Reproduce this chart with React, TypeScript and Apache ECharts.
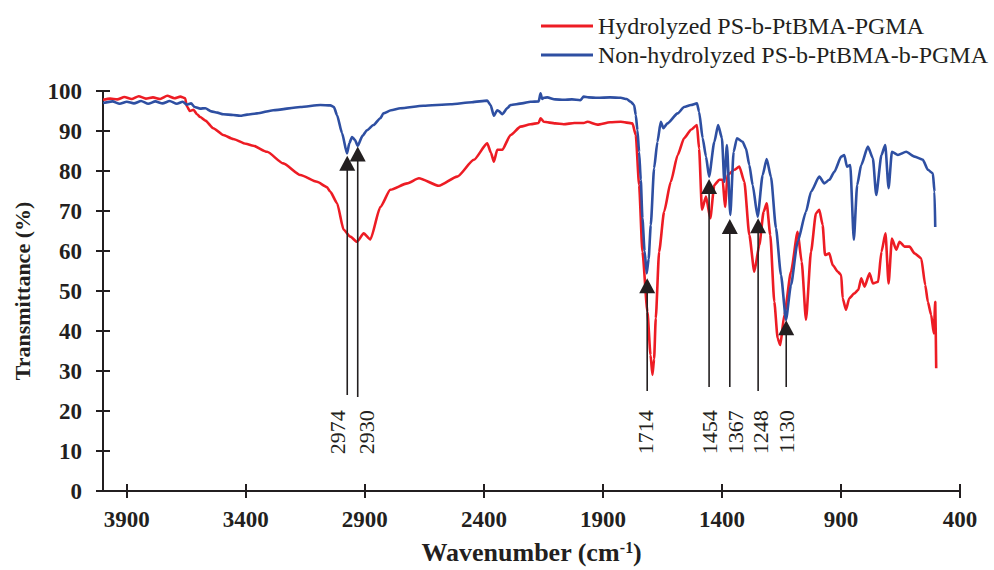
import React, { useEffect, useRef } from "react";
import * as echarts from "echarts";

// ---- Data (wavenumber cm-1, transmittance %) ----
const RED_NAME = "Hydrolyzed PS-b-PtBMA-PGMA";
const BLUE_NAME = "Non-hydrolyzed PS-b-PtBMA-b-PGMA";

const RED_DATA: [number, number][] = [
  [4000,97.8],[3970,98.1],[3940,97.9],[3910,98.5],[3880,98.0],[3850,98.7],[3820,98.1],[3790,98.4],[3760,98.0],[3730,98.8],
  [3700,98.2],[3675,98.6],[3655,98.2],[3648,96.2],[3635,95.0],[3620,95.3],[3605,94.2],[3592,93.5],[3570,92.6],[3537,90.7],
  [3495,89.0],[3453,88.0],[3400,86.8],[3369,86.3],[3311,84.8],[3243,81.9],[3171,79.0],[3101,77.3],[3060,76.0],[3045,74.8],
  [3017,72.0],[2989,65.3],[2961,63.6],[2933,62.3],[2905,64.4],[2877,62.9],[2835,71.0],[2793,75.3],[2722,76.9],[2673,78.2],
  [2589,76.3],[2512,78.6],[2442,82.8],[2386,86.9],[2370,84.5],[2358,82.3],[2344,85.3],[2323,85.3],[2288,89.0],[2246,91.1],
  [2204,91.7],[2170,92.0],[2162,93.2],[2148,92.3],[2100,91.9],[2065,91.7],[2020,92.0],[1981,92.0],[1965,92.3],[1923,91.6],
  [1870,92.2],[1825,92.3],[1776,91.9],[1762,89.0],[1748,76.5],[1734,59.8],[1713,44.8],[1700,34.0],[1692,29.0],[1685,33.0],
  [1678,43.2],[1664,59.8],[1643,69.8],[1615,77.3],[1586,84.0],[1559,88.2],[1530,90.3],[1505,91.5],[1496,85.6],[1484,70.3],
  [1467,73.6],[1449,68.2],[1432,76.5],[1411,77.8],[1397,77.8],[1387,71.0],[1376,79.0],[1348,80.3],[1327,81.1],[1306,77.3],
  [1285,64.0],[1264,54.8],[1243,61.5],[1225,69.8],[1212,71.9],[1197,64.0],[1180,47.3],[1166,38.2],[1155,36.5],[1138,44.0],
  [1110,54.8],[1082,64.8],[1065,57.3],[1047,42.8],[1026,59.8],[1005,69.4],[991,70.3],[977,66.5],[967,59.0],[949,59.4],
  [935,56.5],[913,54.8],[899,54.0],[893,48.2],[879,45.3],[865,48.2],[844,49.4],[827,50.3],[815,53.2],[801,51.1],
  [780,54.4],[766,51.9],[744,52.3],[730,59.8],[713,64.4],[700,51.9],[686,63.1],[668,60.3],[654,62.3],[633,61.1],
  [612,61.1],[591,59.4],[563,58.2],[546,51.5],[535,47.3],[521,44.0],[510,39.4],[504,47.3],[500,30.7]
];

const BLUE_DATA: [number, number][] = [
  [4000,97.0],[3960,97.4],[3930,96.8],[3900,97.3],[3870,96.9],[3840,97.5],[3810,96.8],[3780,97.4],[3750,96.9],[3720,97.5],
  [3690,96.8],[3665,97.3],[3648,96.6],[3630,96.9],[3615,96.0],[3592,95.6],[3570,95.7],[3545,94.9],[3520,94.6],[3495,94.2],
  [3453,94.0],[3424,93.8],[3395,94.1],[3353,94.4],[3285,95.2],[3171,96.0],[3087,96.5],[3045,96.4],[3030,96.0],[3017,94.0],
  [2996,89.5],[2975,84.4],[2965,87.0],[2954,88.5],[2942,87.8],[2930,86.3],[2910,88.8],[2891,90.2],[2864,91.5],[2835,93.2],
  [2822,94.4],[2790,95.2],[2751,95.7],[2654,96.3],[2540,96.7],[2450,97.2],[2386,97.6],[2372,96.5],[2358,93.8],[2344,95.2],
  [2337,95.0],[2323,94.2],[2300,95.8],[2288,96.5],[2240,96.9],[2204,97.3],[2170,97.4],[2162,99.4],[2155,98.0],[2148,98.3],
  [2134,98.4],[2100,97.9],[2065,97.8],[2030,97.9],[1995,97.7],[1981,98.6],[1960,98.4],[1923,98.3],[1870,98.4],[1825,98.3],
  [1800,98.0],[1783,97.3],[1769,96.5],[1762,94.0],[1755,90.2],[1748,84.8],[1741,77.8],[1734,68.2],[1725,60.0],[1716,54.4],
  [1708,58.0],[1699,66.5],[1685,80.7],[1671,87.3],[1657,92.3],[1646,90.7],[1629,91.9],[1586,94.4],[1559,96.0],[1530,96.5],
  [1505,96.9],[1496,94.8],[1481,88.2],[1467,83.6],[1454,78.6],[1432,87.3],[1416,91.5],[1400,88.2],[1390,77.3],[1379,86.5],
  [1365,69.0],[1351,84.8],[1337,88.2],[1313,87.3],[1299,85.6],[1285,81.5],[1271,76.5],[1250,68.6],[1229,79.0],[1212,83.0],
  [1194,78.5],[1173,65.7],[1152,54.0],[1131,42.8],[1110,51.5],[1082,62.3],[1047,69.8],[1026,74.8],[991,78.6],[970,76.9],
  [949,77.8],[928,79.8],[899,83.6],[886,84.0],[875,81.1],[861,81.5],[846,62.8],[832,76.5],[815,81.5],[787,86.1],
  [766,83.2],[752,74.0],[730,84.0],[714,86.5],[700,75.7],[686,84.8],[661,84.0],[626,84.8],[591,83.6],[556,82.8],
  [535,80.3],[514,79.4],[507,74.8],[504,66.0]
];

// Peak annotations: wavenumber, arrow tip (%), line foot (%)
const ANNOT_WN = [2974, 2930, 1714, 1454, 1367, 1248, 1130];
const ANNOT_TIP = [83.8, 86.1, 53.2, 78.0, 68.0, 68.2, 42.7];
const ANNOT_FOOT = [24.0, 23.5, 25.0, 26.0, 26.0, 25.0, 26.0];
const ANNOT_LABEL_TOP = 20.2;

const X_TICKS = [400, 900, 1400, 1900, 2400, 2900, 3400, 3900];

// style-only offsets for the rotated peak labels (px)
const LABEL_DX = [-10, 9, -2, 0, 6, 2, 0];

const INK = "#231f20";
const RED = "#ed1c24";
const BLUE = "#2e4fa2";
const FONT = "'Liberation Serif', 'Times New Roman', serif";

export default function App() {
  const ref = useRef<HTMLDivElement>(null);

  useEffect(() => {
    if (!ref.current) return;
    const chart = echarts.init(ref.current, undefined, { renderer: "svg" });

    const annotData = ANNOT_WN.map((w, i) => [w, ANNOT_TIP[i], ANNOT_FOOT[i]]);

    const xCommon = {
      type: "value" as const,
      min: 400,
      max: 4000,
      interval: 500,
      inverse: true,
      position: "bottom" as const,
      splitLine: { show: false },
    };
    const yCommon = {
      type: "value" as const,
      min: 0,
      max: 100,
      interval: 10,
      position: "left" as const,
      splitLine: { show: false },
    };

    chart.setOption({
      animation: false,
      backgroundColor: "#ffffff",
      grid: { left: 103, right: 34, top: 91, bottom: 79, containLabel: false, outerBoundsMode: "none" },
      legend: {
        data: [RED_NAME, BLUE_NAME],
        orient: "vertical",
        left: 536,
        top: 9,
        padding: 5,
        icon: "rect",
        itemWidth: 52,
        itemHeight: 3,
        itemGap: 5,
        textStyle: { fontFamily: FONT, fontSize: 24, color: INK },
      },
      xAxis: [
        {
          ...xCommon,
          name: "Wavenumber (cm{sup|-1})",
          nameLocation: "middle",
          nameGap: 48,
          nameTextStyle: {
            fontFamily: FONT,
            fontSize: 26,
            fontWeight: "bold",
            color: INK,
            rich: {
              sup: { fontFamily: FONT, fontSize: 16, fontWeight: "bold", color: INK, verticalAlign: "top" },
            },
          },
          axisLine: { show: true, lineStyle: { color: INK, width: 2 } },
          axisTick: { show: true, inside: false, length: 7, lineStyle: { color: INK, width: 2 }, customValues: X_TICKS },
          axisLabel: {
            customValues: X_TICKS,
            formatter: (v: number) => String(v),
            margin: 17,
            fontFamily: FONT,
            fontSize: 23,
            fontWeight: "bold",
            color: INK,
          },
        },
        {
          ...xCommon,
          axisLine: { show: false },
          axisTick: { show: true, inside: true, length: 7, lineStyle: { color: INK, width: 2 }, customValues: X_TICKS },
          axisLabel: { show: false },
        },
      ],
      yAxis: [
        {
          ...yCommon,
          name: "Transmittance (%)",
          nameLocation: "middle",
          nameGap: 70,
          nameTextStyle: { fontFamily: FONT, fontSize: 22, fontWeight: "bold", color: INK },
          axisLine: { show: true, lineStyle: { color: INK, width: 2 } },
          axisTick: { show: true, inside: false, length: 7, lineStyle: { color: INK, width: 2 } },
          axisLabel: { margin: 21, fontFamily: FONT, fontSize: 23, fontWeight: "bold", color: INK },
        },
        {
          ...yCommon,
          axisLine: { show: false },
          axisTick: { show: true, inside: true, length: 7, lineStyle: { color: INK, width: 2 } },
          axisLabel: { show: false },
        },
      ],
      series: [
        {
          name: RED_NAME,
          type: "line",
          data: RED_DATA,
          symbol: "none",
          smooth: 0.2,
          smoothMonotone: "x",
          lineStyle: { color: RED, width: 2.6 },
          itemStyle: { color: RED },
          z: 2,
        },
        {
          name: BLUE_NAME,
          type: "line",
          data: BLUE_DATA,
          symbol: "none",
          smooth: 0.2,
          smoothMonotone: "x",
          lineStyle: { color: BLUE, width: 2.6 },
          itemStyle: { color: BLUE },
          z: 3,
        },
        {
          name: "peaks",
          type: "custom",
          data: annotData,
          z: 4,
          clip: false,
          renderItem: (params: any, api: any) => {
            const wn = api.value(0);
            const tip = api.value(1);
            const foot = api.value(2);
            const pTip = api.coord([wn, tip]);
            const pFoot = api.coord([wn, foot]);
            const pLab = api.coord([wn, ANNOT_LABEL_TOP]);
            const x = pTip[0];
            const triH = 15;
            const triW = 16;
            const dx = LABEL_DX[params.dataIndex] || 0;
            return {
              type: "group",
              children: [
                {
                  type: "line",
                  shape: { x1: x, y1: pFoot[1], x2: x, y2: pTip[1] + triH - 1 },
                  style: { stroke: INK, lineWidth: 1.6 },
                },
                {
                  type: "polygon",
                  shape: { points: [[x, pTip[1]], [x - triW / 2, pTip[1] + triH], [x + triW / 2, pTip[1] + triH]] },
                  style: { fill: INK },
                },
                {
                  type: "text",
                  x: x + dx,
                  y: pLab[1],
                  rotation: Math.PI / 2,
                  style: {
                    text: String(wn),
                    align: "right",
                    verticalAlign: "middle",
                    fontFamily: FONT,
                    fontSize: 22,
                    fill: INK,
                  },
                },
              ],
            };
          },
        },
      ],
    });

    return () => chart.dispose();
  }, []);

  return (
    <div
      ref={ref}
      style={{ position: "fixed", left: 0, top: 0, width: 994, height: 570, background: "#fff" }}
    />
  );
}
